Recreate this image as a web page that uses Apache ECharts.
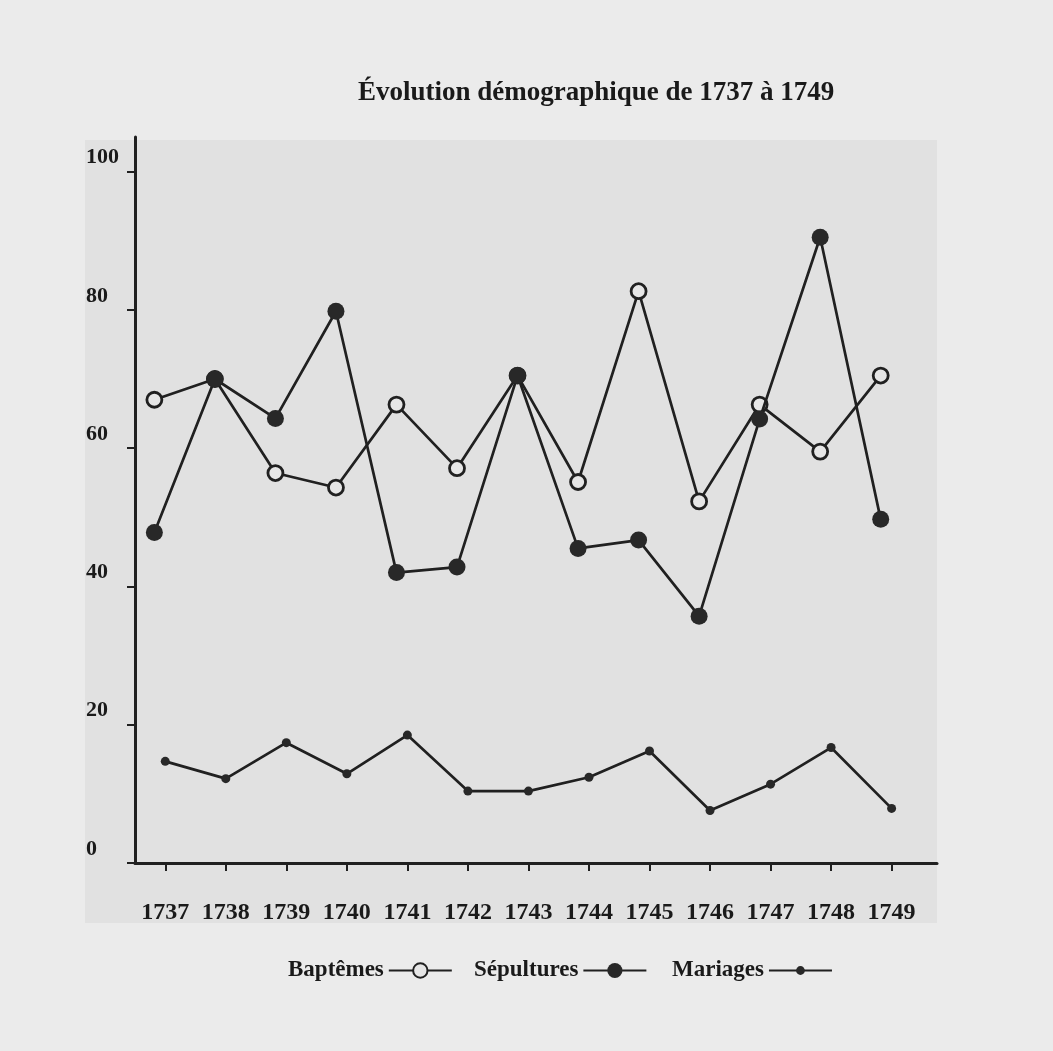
<!DOCTYPE html>
<html>
<head>
<meta charset="utf-8">
<script src="https://cdn.jsdelivr.net/npm/echarts@6/dist/echarts.min.js"></script>
<style>
html,body{margin:0;padding:0;background:#ebebeb;}
#chart{width:1053px;height:1051px;}
</style>
</head>
<body>
<div id="chart"></div>
<script>
const years = [1737,1738,1739,1740,1741,1742,1743,1744,1745,1746,1747,1748,1749];
const baptemes   = [67, 70, 56.4, 54.3, 66.3, 57.1, 70.5, 55.1, 82.7, 52.3, 66.3, 59.5, 70.5];
const sepultures = [47.8, 70, 64.3, 79.8, 42.0, 42.8, 70.5, 45.5, 46.7, 35.7, 64.2, 90.5, 49.7];
const mariages   = [14.7, 12.2, 17.4, 12.9, 18.5, 10.4, 10.4, 12.4, 16.2, 7.6, 11.4, 16.7, 7.9];
const yTicks = [0, 20, 40, 60, 80, 100];
const titleText = 'Évolution démographique de 1737 à 1749';
const names = ['Baptêmes', 'Sépultures', 'Mariages'];

const pair = arr => years.map((y, i) => [y, arr[i]]);
const ink = '#202020';
const serif = 'Liberation Serif';
const legendText = {fontFamily: serif, fontWeight: 'bold', fontSize: 23, color: '#1a1a1a'};
const legendPos = [283, 469, 667];
const legendH = [18, 19, 11];

const chart = echarts.init(document.getElementById('chart'));
chart.setOption({
  backgroundColor: '#ebebeb',
  animation: false,
  graphic: [{
    type: 'rect', z: -10, silent: true,
    shape: {x: 85, y: 140, width: 852, height: 783},
    style: {fill: '#e1e1e1'}
  }],
  title: {
    text: titleText, left: 353, top: 75,
    textStyle: {fontFamily: serif, fontWeight: 'bold', fontSize: 27, color: '#1a1a1a'}
  },
  legend: names.map((n, i) => ({
    data: [n], left: legendPos[i], top: 968 - 14, align: 'right',
    itemWidth: 63, itemHeight: legendH[i], itemGap: 0,
    textStyle: legendText
  })),
  grid: {left: 135, right: 116, top: 137, bottom: 188},
  xAxis: [{
    type: 'value', min: 1736.5, max: 1749.75,
    splitLine: {show: false},
    axisLine: {show: true, onZero: false, lineStyle: {color: ink, width: 3}},
    axisTick: {show: true, customValues: years, length: 8, lineStyle: {color: ink, width: 2}},
    axisLabel: {customValues: years, formatter: v => String(v), margin: 38,
      fontFamily: serif, fontWeight: 'bold', fontSize: 24, color: '#1a1a1a'}
  }, {
    type: 'value', min: 1736.68, max: 1749.93, show: false, position: 'bottom'
  }],
  yAxis: {
    type: 'value', min: 0, max: 105,
    splitLine: {show: false},
    axisLine: {show: true, lineStyle: {color: ink, width: 3}},
    axisTick: {show: true, customValues: yTicks, length: 8, lineStyle: {color: ink, width: 2}},
    axisLabel: {customValues: yTicks, align: 'left', margin: 49, verticalAlign: 'bottom', padding: [0,0,3,0],
      fontFamily: serif, fontWeight: 'bold', fontSize: 22, color: '#1a1a1a'}
  },
  series: [{
    name: names[0], type: 'line', xAxisIndex: 1, data: pair(baptemes),
    symbol: 'circle', symbolSize: 15, z: 3,
    itemStyle: {color: '#e6e6e6', borderColor: ink, borderWidth: 2.8},
    lineStyle: {color: ink, width: 2.7}
  }, {
    name: names[1], type: 'line', xAxisIndex: 1, data: pair(sepultures),
    symbol: 'circle', symbolSize: 17, z: 4,
    itemStyle: {color: '#282828'},
    lineStyle: {color: ink, width: 2.7}
  }, {
    name: names[2], type: 'line', xAxisIndex: 0, data: pair(mariages),
    symbol: 'circle', symbolSize: 9, z: 3,
    itemStyle: {color: '#282828'},
    lineStyle: {color: ink, width: 2.7}
  }]
});
</script>
</body>
</html>
